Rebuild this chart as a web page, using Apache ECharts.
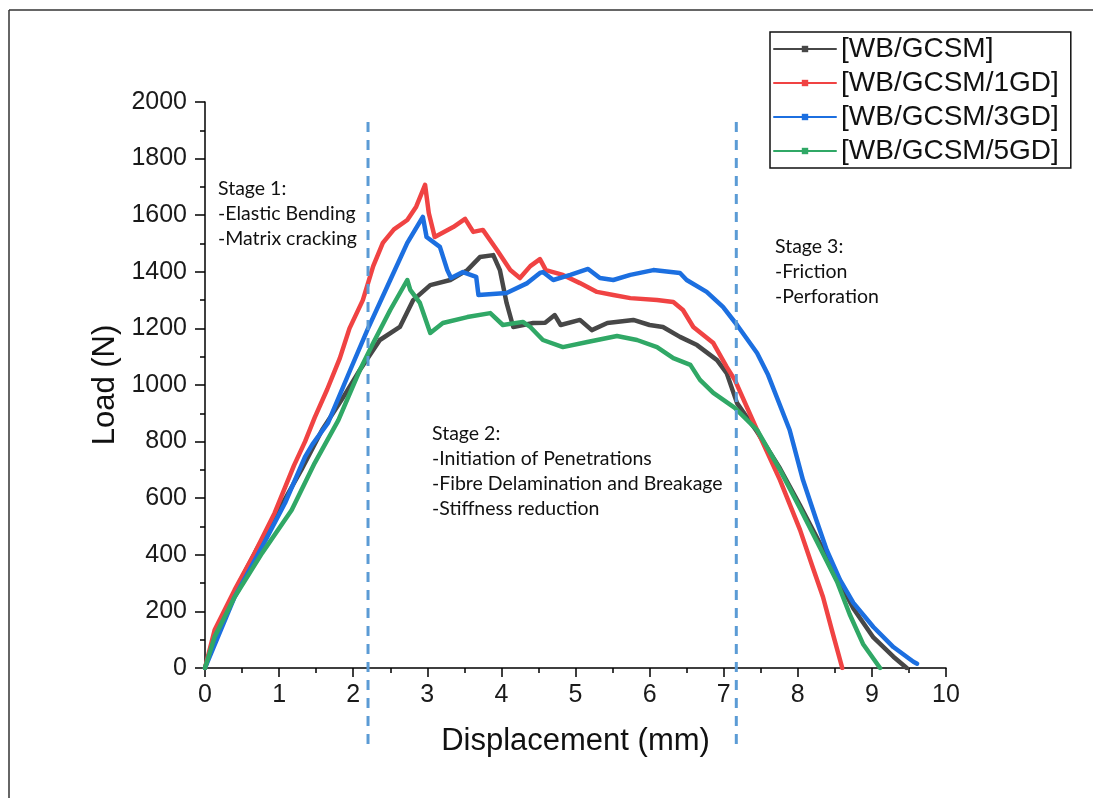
<!DOCTYPE html>
<html>
<head>
<meta charset="utf-8">
<script src="https://cdn.jsdelivr.net/npm/echarts@6/dist/echarts.min.js"></script>
<style>
  html, body { margin: 0; padding: 0; background: #fff; }
  #chart { width: 1093px; height: 798px; }
</style>
</head>
<body>
<div id="chart"></div>
<script>
// displacement (mm) / load (N)
var dispBlack = [0, 0.15, 0.4, 0.7, 1.0, 1.3, 1.58, 1.85, 2.09, 2.36, 2.63, 2.81, 3.04, 3.31, 3.54, 3.71, 3.89, 3.98, 4.07, 4.16, 4.43, 4.59, 4.72, 4.8, 5.06, 5.22, 5.43, 5.78, 6.0, 6.18, 6.41, 6.64, 6.91, 7.04, 7.18, 7.45, 7.76, 8.03, 8.3, 8.57, 8.75, 9.02, 9.29, 9.47];
var loadBlack = [0, 130, 270, 420, 560, 700, 841, 950, 1053, 1159, 1205, 1300, 1353, 1371, 1406, 1452, 1459, 1406, 1290, 1205, 1219, 1220, 1247, 1212, 1230, 1194, 1219, 1230, 1212, 1205, 1170, 1141, 1088, 1042, 936, 835, 705, 575, 440, 300, 210, 108, 40, 0];

var dispRed = [0, 0.13, 0.4, 0.67, 0.94, 1.2, 1.35, 1.48, 1.65, 1.82, 1.95, 2.13, 2.27, 2.4, 2.55, 2.73, 2.85, 2.97, 3.02, 3.1, 3.35, 3.51, 3.62, 3.75, 3.94, 4.12, 4.25, 4.39, 4.52, 4.6, 4.83, 5.06, 5.29, 5.51, 5.74, 6.1, 6.32, 6.45, 6.59, 6.86, 7.04, 7.15, 7.45, 7.76, 8.03, 8.2, 8.34, 8.47, 8.6];
var loadRed = [0, 134, 276, 406, 548, 715, 800, 885, 985, 1095, 1200, 1300, 1420, 1502, 1550, 1583, 1630, 1707, 1608, 1523, 1558, 1587, 1541, 1548, 1477, 1406, 1378, 1420, 1445, 1406, 1389, 1360, 1329, 1318, 1307, 1300, 1293, 1265, 1205, 1148, 1064, 1018, 841, 664, 488, 357, 251, 124, 0];

var dispBlue = [0, 0.4, 0.77, 1.08, 1.35, 1.45, 1.66, 1.96, 2.19, 2.5, 2.73, 2.94, 2.99, 3.17, 3.27, 3.32, 3.48, 3.66, 3.69, 4.07, 4.35, 4.52, 4.56, 4.7, 4.93, 5.17, 5.33, 5.51, 5.74, 6.05, 6.41, 6.5, 6.77, 6.99, 7.18, 7.45, 7.6, 7.89, 8.07, 8.25, 8.39, 8.57, 8.75, 9.02, 9.29, 9.56, 9.61];
var loadBlue = [0, 251, 428, 583, 746, 790, 866, 1053, 1194, 1371, 1502, 1594, 1523, 1488, 1406, 1378, 1399, 1382, 1318, 1325, 1360, 1396, 1399, 1371, 1389, 1410, 1378, 1371, 1389, 1406, 1396, 1371, 1329, 1276, 1212, 1113, 1035, 841, 664, 523, 417, 311, 230, 145, 74, 22, 15];

var dispGreen = [0, 0.13, 0.4, 0.77, 1.17, 1.48, 1.8, 2.09, 2.27, 2.5, 2.73, 2.77, 2.9, 3.04, 3.21, 3.54, 3.85, 4.02, 4.29, 4.39, 4.56, 4.83, 5.16, 5.56, 5.83, 6.1, 6.32, 6.55, 6.68, 6.86, 7.15, 7.45, 7.76, 8.03, 8.3, 8.53, 8.7, 8.88, 9.11];
var loadGreen = [0, 110, 251, 406, 558, 724, 876, 1053, 1148, 1265, 1371, 1336, 1290, 1184, 1219, 1240, 1254, 1212, 1223, 1205, 1159, 1134, 1152, 1173, 1159, 1134, 1095, 1071, 1018, 972, 919, 841, 700, 565, 425, 305, 190, 85, 0];

var seriesNames = ['[WB/GCSM]', '[WB/GCSM/1GD]', '[WB/GCSM/3GD]', '[WB/GCSM/5GD]'];
var seriesColors = ['#474747', '#f04343', '#1c6fe0', '#30a866'];
var stageBounds = [2.2, 7.17];

function zip(xs, ys) {
  return xs.map(function (x, i) { return [x, ys[i]]; });
}

var dataSets = [
  zip(dispBlack, loadBlack),
  zip(dispRed, loadRed),
  zip(dispBlue, loadBlue),
  zip(dispGreen, loadGreen)
];

var myChart = echarts.init(document.getElementById('chart'));
var axisFont = 'Liberation Sans, Arial, sans-serif';
var noteFont = 'Lato, "Open Sans", sans-serif';

myChart.setOption({
  animation: false,
  backgroundColor: '#fff',
  grid: { left: 205, right: 147, top: 102, bottom: 130 },
  legend: {
    orient: 'vertical',
    left: 770,
    top: 32,
    backgroundColor: '#fff',
    borderColor: '#111',
    borderWidth: 1.5,
    padding: [3, 12, 3, 3],
    itemGap: 6,
    itemWidth: 62,
    itemHeight: 8,
    lineStyle: { width: 2 },
    textStyle: { fontFamily: axisFont, fontSize: 28, color: '#111' },
    data: seriesNames
  },
  xAxis: {
    type: 'value',
    min: 0, max: 10, interval: 1,
    name: 'Displacement (mm)',
    nameLocation: 'middle',
    nameGap: 58,
    nameTextStyle: { fontFamily: axisFont, fontSize: 31, color: '#111' },
    axisLine: { lineStyle: { color: '#000', width: 1.5 } },
    axisTick: { length: 9, lineStyle: { color: '#000', width: 1.5 } },
    minorTick: { show: true, splitNumber: 2, length: 5, lineStyle: { color: '#000', width: 1.5 } },
    axisLabel: { fontFamily: axisFont, fontSize: 25, color: '#1a1a1a', margin: 15 },
    splitLine: { show: false }
  },
  yAxis: {
    type: 'value',
    min: 0, max: 2000, interval: 200,
    name: 'Load (N)',
    nameLocation: 'middle',
    nameGap: 64,
    nameTextStyle: { fontFamily: axisFont, fontSize: 31, color: '#111' },
    axisLine: { show: true, lineStyle: { color: '#000', width: 1.5 } },
    axisTick: { show: true, length: 10, lineStyle: { color: '#000', width: 1.5 } },
    minorTick: { show: true, splitNumber: 2, length: 5, lineStyle: { color: '#000', width: 1.5 } },
    axisLabel: {
      fontFamily: axisFont, fontSize: 25, color: '#1a1a1a', margin: 18,
      formatter: function (v) { return String(v); }
    },
    splitLine: { show: false }
  },
  series: dataSets.map(function (d, i) {
    return {
      name: seriesNames[i],
      type: 'line',
      data: d,
      showSymbol: false,
      symbol: 'rect',
      color: seriesColors[i],
      lineStyle: { width: 4.5, color: seriesColors[i], join: 'round', cap: 'round' }
    };
  })
});

// stage boundaries and annotations
var yTop = 122, yBottom = 750;
var graphics = [
  { type: 'line', shape: { x1: 9, y1: 10, x2: 1093, y2: 10 }, style: { stroke: '#333', lineWidth: 1.5 } },
  { type: 'line', shape: { x1: 9, y1: 10, x2: 9, y2: 798 }, style: { stroke: '#333', lineWidth: 1.5 } }
];
stageBounds.forEach(function (v) {
  var px = myChart.convertToPixel({ xAxisIndex: 0 }, v);
  graphics.push({
    type: 'line', z: 10,
    shape: { x1: px, y1: yTop, x2: px, y2: yBottom },
    style: { stroke: '#5b9bd5', lineWidth: 3, lineDash: [10, 8] }
  });
});
var notes = [
  { x: 218, y: 176, text: 'Stage 1:\n-Elastic Bending\n-Matrix cracking' },
  { x: 432, y: 421, text: 'Stage 2:\n-Initiation of Penetrations\n-Fibre Delamination and Breakage\n-Stiffness reduction' },
  { x: 775, y: 234, text: 'Stage 3:\n-Friction\n-Perforation' }
];
notes.forEach(function (n) {
  graphics.push({
    type: 'text', left: n.x, top: n.y, z: 10,
    style: { text: n.text, fontFamily: noteFont, fontSize: 19.5, lineHeight: 25, fill: '#111' }
  });
});
myChart.setOption({ graphic: graphics });

window.addEventListener('resize', function () {
  myChart.resize();
});
</script>
</body>
</html>
